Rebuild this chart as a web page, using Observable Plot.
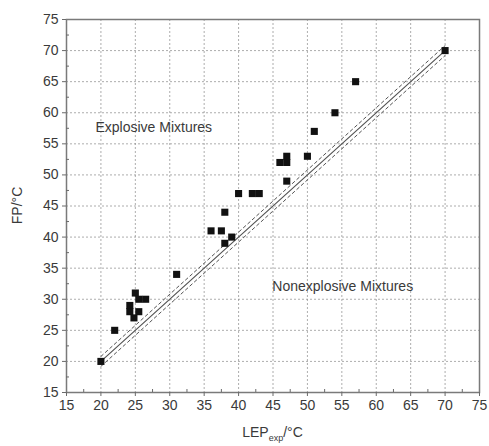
<!DOCTYPE html>
<html>
<head>
<meta charset="utf-8">
<script src="https://cdn.jsdelivr.net/npm/d3@7"></script>
<script src="https://cdn.jsdelivr.net/npm/@observablehq/plot@0.6"></script>
<style>
  html, body { margin: 0; padding: 0; background: #fff; }
  #chart svg { display: block; }
</style>
</head>
<body>
<div id="chart"></div>
<script>
// Experimental lower explosion point vs. flash point of the mixtures
const lepExp = [20, 22, 24.2, 24.2, 24.8, 25, 25.5, 25.5, 26.5, 31, 36, 37.5, 38, 38, 39, 40, 42, 43, 46, 47, 47, 47, 50, 51, 54, 57, 70];
const fp     = [20, 25, 29,   28,   27,   31, 30,   28,   30,   34, 41, 41,   44, 39, 40, 47, 47, 47, 52, 53, 52, 49, 53, 57, 60, 65, 70];

// Diagonal FP = LEP with its tolerance band
const diagX = [20, 70];
const bandOffsets = [0.8, -0.8];

const majorTicks = [15, 20, 25, 30, 35, 40, 45, 50, 55, 60, 65, 70, 75];
const minorTicks = [17.5, 22.5, 27.5, 32.5, 37.5, 42.5, 47.5, 52.5, 57.5, 62.5, 67.5, 72.5];

const regionLabels = ["Explosive Mixtures", "Nonexplosive Mixtures"];
const regionX = [19.2, 44.9];
const regionY = [57.6, 32.1];

const points = lepExp.map((x, i) => ({x, y: fp[i]}));
const diag = diagX.map(x => ({x, y: x}));
const band = bandOffsets.flatMap((d, k) => diagX.map(x => ({x, y: x + d, k})));
const labels = regionLabels.map((t, i) => ({t, x: regionX[i], y: regionY[i]}));

const W = 489, H = 446;
const mL = 66, mR = 10, mT = 19, mB = 54;
const ink = "#3a3a3a";

const plot = Plot.plot({
  width: W,
  height: H,
  marginLeft: mL,
  marginRight: mR,
  marginTop: mT,
  marginBottom: mB,
  style: {fontFamily: "'Liberation Sans', Arial, sans-serif", fontSize: "14px", color: ink, background: "#fff"},
  x: {domain: [15, 75], label: null},
  y: {domain: [15, 75], label: null},
  marks: [
    Plot.gridX(majorTicks, {stroke: "#8a8a8a", strokeOpacity: 0.7, strokeDasharray: "2,2"}),
    Plot.gridY(majorTicks, {stroke: "#8a8a8a", strokeOpacity: 0.7, strokeDasharray: "2,2"}),
    Plot.frame({stroke: "#7a7a7a", strokeWidth: 1.5}),
    Plot.axisX(majorTicks, {tickSize: 4, tickPadding: 4, stroke: "#6a6a6a", fill: ink, fontSize: 14}),
    Plot.axisX(minorTicks, {tickSize: -3, text: null, stroke: "#6a6a6a"}),
    Plot.axisY(majorTicks, {tickSize: 4, tickPadding: 4, stroke: "#6a6a6a", fill: ink, fontSize: 14}),
    Plot.axisY(minorTicks, {tickSize: -3, text: null, stroke: "#6a6a6a"}),
    Plot.line(band, {x: "x", y: "y", z: "k", stroke: "#555", strokeWidth: 1, strokeDasharray: "3,3"}),
    Plot.line(diag, {x: "x", y: "y", stroke: "#555", strokeWidth: 1.2}),
    Plot.dot(points, {x: "x", y: "y", symbol: "square", r: 4, fill: "#111", stroke: "none"}),
    Plot.text(labels, {x: "x", y: "y", text: "t", textAnchor: "start", fill: ink, fontSize: 14})
  ]
});

// Axis titles: FP/°C on the left, LEP with subscript "exp" below
const svg = d3.select(plot);
svg.append("text")
  .attr("transform", `translate(22,${(mT + H - mB) / 2}) rotate(-90)`)
  .attr("text-anchor", "middle")
  .attr("font-size", 14)
  .attr("fill", ink)
  .text("FP/°C");

const xt = svg.append("text")
  .attr("x", mL + (W - mL - mR) / 2)
  .attr("y", 437)
  .attr("text-anchor", "middle")
  .attr("font-size", 14)
  .attr("fill", ink);
xt.append("tspan").text("LEP");
xt.append("tspan").attr("font-size", 9).attr("dy", 4).text("exp");
xt.append("tspan").attr("dy", -4).text("/°C");

document.getElementById("chart").appendChild(plot);
</script>
</body>
</html>
